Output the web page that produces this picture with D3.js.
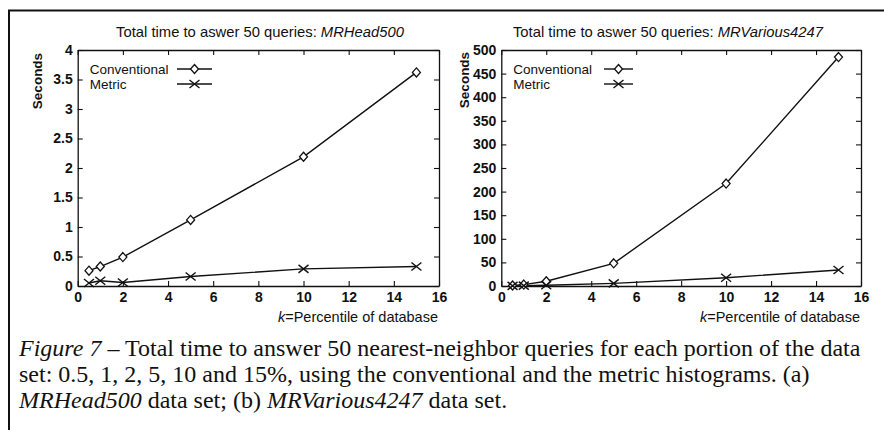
<!DOCTYPE html>
<html>
<head>
<meta charset="utf-8">
<script src="https://cdn.jsdelivr.net/npm/d3@7"></script>
<style>
  body { margin: 0; background: #fff; }
  svg { display: block; }
  .tick text { font-family: "Liberation Sans", Arial, sans-serif; font-size: 14px; font-weight: bold; fill: #111; }
  .tick line, .domain { stroke: #111; }
</style>
</head>
<body>
<svg id="chart" width="884" height="430"></svg>
<script>
// k = percentile of the database
const percentiles = [0.5, 1, 2, 5, 10, 15]

// MRHead500, seconds
const headConventional = [0.26, 0.33, 0.49, 1.12, 2.19, 3.62]
const headMetric = [0.05, 0.09, 0.06, 0.16, 0.29, 0.33]

// MRVarious4247, seconds
const variousConventional = [1, 3, 10, 48, 217, 485]
const variousMetric = [0.3, 0.7, 1.5, 5.6, 17.5, 34]

const xTicks = [0, 2, 4, 6, 8, 10, 12, 14, 16]
const headYTicks = [0, 0.5, 1, 1.5, 2, 2.5, 3, 3.5, 4]
const variousYTicks = [0, 50, 100, 150, 200, 250, 300, 350, 400, 450, 500]

const svg = d3.select("#chart")
const sans = '"Liberation Sans", Arial, sans-serif'
const serif = '"Liberation Serif", "Times New Roman", serif'

// frame around the figure
svg.append("path")
  .attr("d", "M9,430V10.5H884")
  .attr("fill", "none")
  .attr("stroke", "#111")
  .attr("stroke-width", 2)

function diamond(g, x, y) {
  g.append("path")
    .attr("d", `M${x},${y - 4.5}L${x + 4},${y}L${x},${y + 4.5}L${x - 4},${y}Z`)
    .attr("fill", "#fff").attr("stroke", "#111").attr("stroke-width", 1.3)
}
function cross(g, x, y) {
  g.append("path")
    .attr("d", `M${x - 5},${y - 4}L${x + 5},${y + 4}M${x - 5},${y + 4}L${x + 5},${y - 4}`)
    .attr("stroke", "#111").attr("stroke-width", 1.4)
}

function panel(opt) {
  const x = d3.scaleLinear().domain([0, 16]).range([opt.left, opt.right])
  const y = d3.scaleLinear().domain([0, opt.ymax]).range([286, 50])
  const g = svg.append("g")

  g.append("g").attr("transform", "translate(0,286)")
    .call(d3.axisBottom(x).tickValues(xTicks).tickSizeInner(-5).tickSizeOuter(0).tickPadding(6))
  g.append("g").attr("transform", "translate(0,50)")
    .call(d3.axisTop(x).tickValues(xTicks).tickSizeInner(-5).tickSizeOuter(0).tickFormat(""))
  g.append("g").attr("transform", `translate(${opt.left},0)`)
    .call(d3.axisLeft(y).tickValues(opt.yTicks).tickSizeInner(-5).tickSizeOuter(0).tickPadding(5).tickFormat(d => String(d)))
  g.append("g").attr("transform", `translate(${opt.right},0)`)
    .call(d3.axisRight(y).tickValues(opt.yTicks).tickSizeInner(-5).tickSizeOuter(0).tickFormat(""))
  g.selectAll(".domain").attr("stroke-width", 1.3)
  g.selectAll(".tick line").attr("stroke-width", 1.1)

  const line = d3.line().x(d => x(d[0])).y(d => y(d[1]))
  const conv = percentiles.map((p, i) => [p, opt.conventional[i]])
  const met = percentiles.map((p, i) => [p, opt.metric[i]])
  g.append("path").attr("d", line(conv)).attr("fill", "none").attr("stroke", "#111").attr("stroke-width", 1.4)
  g.append("path").attr("d", line(met)).attr("fill", "none").attr("stroke", "#111").attr("stroke-width", 1.4)
  conv.forEach(d => diamond(g, x(d[0]), y(d[1])))
  met.forEach(d => cross(g, x(d[0]), y(d[1])))

  // title
  const t = g.append("text").attr("x", opt.titleX).attr("y", 37)
    .attr("text-anchor", "middle").attr("font-family", sans).attr("font-size", 14.8).attr("fill", "#111")
  t.append("tspan").text("Total time to aswer 50 queries: ")
  t.append("tspan").attr("font-style", "italic").text(opt.name)

  // y label
  g.append("text").attr("transform", `translate(${opt.ylabX},${opt.ylabY}) rotate(-90)`)
    .attr("text-anchor", "middle").attr("font-family", sans).attr("font-size", 13.5)
    .attr("font-weight", "bold").attr("fill", "#111").text("Seconds")

  // x label
  const xl = g.append("text").attr("x", opt.right - 1).attr("y", 322)
    .attr("text-anchor", "end").attr("font-family", sans).attr("font-size", 14.5).attr("fill", "#111")
  xl.append("tspan").attr("font-style", "italic").text("k")
  xl.append("tspan").text("=Percentile of database")

  // legend
  const lx = opt.left + 12
  const items = [["Conventional", diamond], ["Metric", cross]]
  items.forEach((it, i) => {
    const ly = 69 + i * 15
    g.append("text").attr("x", lx).attr("y", ly + 4.5).attr("font-family", sans)
      .attr("font-size", 13.5).attr("fill", "#111").text(it[0])
    g.append("line").attr("x1", opt.legLine[0]).attr("x2", opt.legLine[1])
      .attr("y1", ly).attr("y2", ly).attr("stroke", "#111").attr("stroke-width", 1.4)
    it[1](g, (opt.legLine[0] + opt.legLine[1]) / 2, ly)
  })
}

panel({ left: 77.7, right: 439, ymax: 4, yTicks: headYTicks, name: "MRHead500", titleX: 260,
  conventional: headConventional, metric: headMetric, ylabX: 42, ylabY: 81, legLine: [177, 212] })
panel({ left: 501.3, right: 861, ymax: 500, yTicks: variousYTicks, name: "MRVarious4247", titleX: 668,
  conventional: variousConventional, metric: variousMetric, ylabX: 469, ylabY: 80, legLine: [604, 633] })

// caption
const cap = svg.append("text").attr("font-family", serif).attr("font-size", 24).attr("fill", "#111")
const l1 = cap.append("tspan").attr("x", 19).attr("y", 356)
l1.append("tspan").attr("font-style", "italic").text("Figure 7")
l1.append("tspan").text(" \u2013 Total time to answer 50 nearest-neighbor queries for each portion of the data")
cap.append("tspan").attr("x", 19).attr("y", 382)
  .text("set: 0.5, 1, 2, 5, 10 and 15%, using the conventional and the metric histograms. (a)")
const l3 = cap.append("tspan").attr("x", 19).attr("y", 408)
l3.append("tspan").attr("font-style", "italic").text("MRHead500")
l3.append("tspan").text(" data set; (b) ")
l3.append("tspan").attr("font-style", "italic").text("MRVarious4247")
l3.append("tspan").text(" data set.")
</script>
</body>
</html>
